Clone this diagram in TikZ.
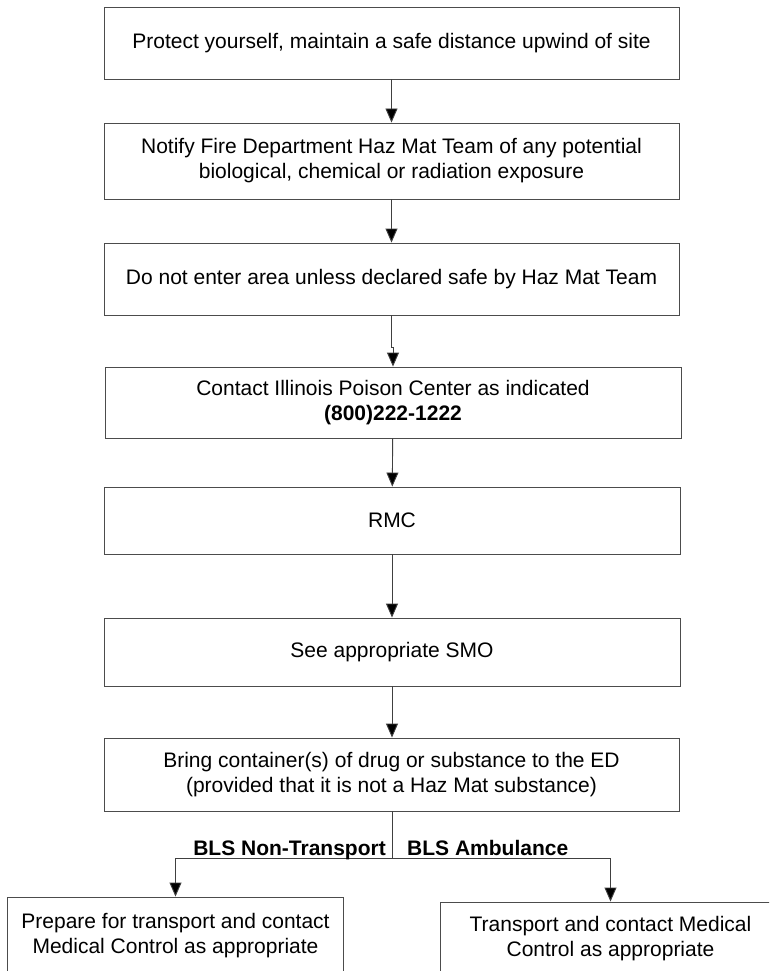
\documentclass[tikz,border=0pt]{standalone}
\usepackage{fontspec}
\setmainfont{Liberation Sans}
\usetikzlibrary{arrows.meta}
\newcommand\boxfont{\fontsize{21}{25}\selectfont}
\begin{document}
\begin{tikzpicture}[x=1pt,y=-1pt,
  flowbox/.style={draw=black!70, line width=0.9pt, minimum width=575pt, align=center, inner sep=0pt, font=\boxfont},
  conn/.style={draw=black!75, line width=0.9pt},
  arr/.style={conn, -{Triangle[width=12pt,length=14pt,fill=black]}},
  lbl/.style={inner sep=0pt, font=\boxfont\bfseries}
]
\useasboundingbox (0,0) rectangle (769,971);
\fill[white] (0,0) rectangle (769,971);
\clip (0,0) rectangle (769,971);

\node[flowbox, minimum height=72pt] (b1) at (391.5,43) {Protect yourself, maintain a safe distance upwind of site};
\node[flowbox, minimum height=76pt] (b2) at (391.5,161) {Notify Fire Department Haz Mat Team of any potential\\biological, chemical or radiation exposure};
\node[flowbox, minimum height=72pt] (b3) at (391.5,279) {Do not enter area unless declared safe by Haz Mat Team};
\node[flowbox, minimum height=71pt, minimum width=576pt] (b4) at (393,402.5) {Contact Illinois Poison Center as indicated\\\textbf{(800)222-1222}};
\node[flowbox, minimum height=67pt, minimum width=576pt] (b5) at (392,520.5) {RMC};
\node[flowbox, minimum height=68pt, minimum width=576pt] (b6) at (392,652) {See appropriate SMO};
\node[flowbox, minimum height=73pt] (b7) at (391.5,774.5) {Bring container(s) of drug or substance to the ED\\(provided that it is not a Haz Mat substance)};
\node[flowbox, minimum height=78pt, minimum width=336pt] (bl) at (175.5,936) {Prepare for transport and contact\\Medical Control as appropriate};
\node[flowbox, minimum height=74pt, minimum width=341pt] (br) at (610.5,939) {Transport and contact Medical\\Control as appropriate};

\draw[arr] (b1) -- (b2);
\draw[arr] (b2) -- (b3);
\draw[arr] (b3.south) -- ++(0,32) -| (b4.north);
\draw[arr] (b4) -- (b5);
\draw[arr] (b5.south) -- (b6.north -| b5.south);
\draw[arr] (b6.south) -- (b7.north -| b6.south);

\coordinate (j) at (392,858);
\draw[conn] (b7.south -| j) -- (j);
\draw[arr] (j) -| (bl.north);
\draw[arr] (j) -| (br.north);

\node[lbl, anchor=base east] (ln) at (386,855) {BLS Non-Transport};
\node[lbl, anchor=base west] (la) at (407,855) {BLS Ambulance};
\end{tikzpicture}
\end{document}
